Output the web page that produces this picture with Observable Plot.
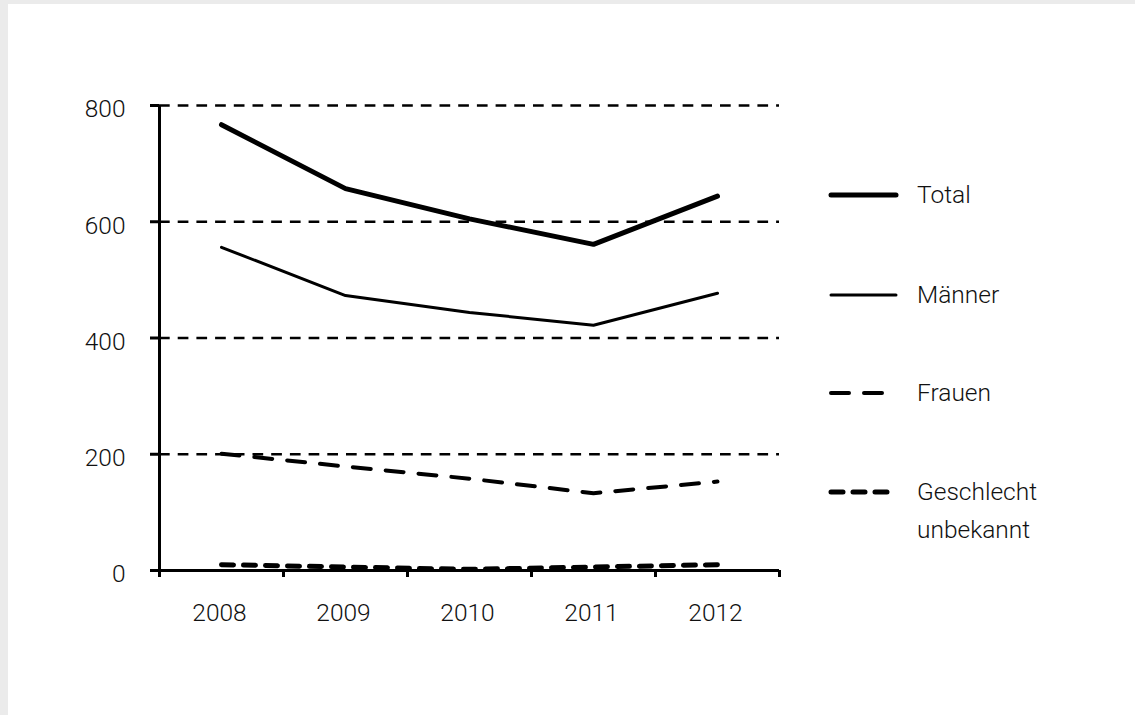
<!DOCTYPE html>
<html>
<head>
<meta charset="utf-8">
<script src="https://cdn.jsdelivr.net/npm/d3@7"></script>
<script src="https://cdn.jsdelivr.net/npm/@observablehq/plot@0.6"></script>
<style>
  html, body { margin: 0; padding: 0; background: #ebebeb; }
  #panel { position: absolute; left: 8px; top: 4px; width: 1127px; height: 711px; background: #fff; overflow: hidden; }
  #chart { position: absolute; left: -8px; top: -4px; }
  #legend { position: absolute; left: 0; top: 0; }
  .lg { position: absolute; font-family: Roboto, "Liberation Sans", sans-serif; font-weight: 300; font-size: 24.5px; color: #111; line-height: 38px; white-space: nowrap; }
  svg text { font-family: Roboto, "Liberation Sans", sans-serif; font-weight: 300; }
</style>
</head>
<body>
<div id="panel"><div id="chart"></div><div id="legend"></div></div>
<script>
const years = [2008, 2009, 2010, 2011, 2012];
const total = [767, 657, 605, 561, 644];
const maenner = [556, 473, 444, 422, 477];
const frauen = [201, 179, 158, 133, 153];
const unbekannt = [10, 6, 2, 6, 10];
const yTicks = [0, 200, 400, 600, 800];
const seriesNames = ["Total", "Männer", "Frauen", "Geschlecht unbekannt"];

const styles = {
  "Total": {strokeWidth: 5, dash: null},
  "Männer": {strokeWidth: 3, dash: null},
  "Frauen": {strokeWidth: 4, dash: "18,15"},
  "Geschlecht unbekannt": {strokeWidth: 5, dash: "12,10"}
};
const values = [total, maenner, frauen, unbekannt];
const data = seriesNames.flatMap((s, i) => years.map((yr, j) => ({series: s, year: yr, value: values[i][j]})));
const bounds = [...years.map(y => y - 0.5), years[years.length - 1] + 0.5];

const marks = [
  Plot.ruleY(yTicks.filter(d => d > 0), {x1: bounds[0], x2: bounds[bounds.length - 1], stroke: "#000", strokeWidth: 2.5, strokeDasharray: "10.7,8"}),
  Plot.axisY({ticks: yTicks, tickSize: 9, tickFormat: () => "", stroke: "#000", strokeWidth: 3, label: null}),
  Plot.axisY({ticks: yTicks, tickSize: 0, tickPadding: 34, fontSize: 24.5, fill: "#111", tickFormat: d => String(d), dy: 4, label: null}),
  Plot.axisX({ticks: bounds, tickSize: 7, tickFormat: () => "", strokeWidth: 3, stroke: "#000", label: null}),
  Plot.axisX({ticks: years, tickSize: 0, tickPadding: 33, fontSize: 24.5, fill: "#111", tickFormat: d => String(d), dx: -2, label: null}),
  Plot.ruleX([bounds[0]], {y1: 0, y2: 800, stroke: "#000", strokeWidth: 3}),
  Plot.ruleY([0], {x1: bounds[0], x2: bounds[bounds.length - 1], stroke: "#000", strokeWidth: 3})
];
for (const s of seriesNames) {
  const st = styles[s];
  marks.push(Plot.line(data.filter(d => d.series === s), {
    x: "year", y: "value", stroke: "#000", strokeWidth: st.strokeWidth,
    strokeDasharray: st.dash, strokeLinecap: "round", strokeLinejoin: "miter"
  }));
}

const chart = Plot.plot({
  width: 1135, height: 715,
  marginLeft: 159, marginRight: 356, marginTop: 105, marginBottom: 145,
  x: {type: "linear", domain: [bounds[0], bounds[bounds.length - 1]], label: null},
  y: {domain: [0, 800], label: null},
  style: {background: "transparent", overflow: "visible"},
  marks
});
document.getElementById("chart").appendChild(chart);

// Legend
const legend = document.getElementById("legend");
const legendRows = [
  {name: "Total", label: "Total", y: 195},
  {name: "Männer", label: "Männer", y: 295},
  {name: "Frauen", label: "Frauen", y: 393},
  {name: "Geschlecht unbekannt", label: "Geschlecht<br>unbekannt", y: 492}
];
for (const r of legendRows) {
  const st = styles[r.name];
  const svgNS = "http://www.w3.org/2000/svg";
  const svg = document.createElementNS(svgNS, "svg");
  svg.setAttribute("width", 80); svg.setAttribute("height", 20);
  svg.style.position = "absolute";
  svg.style.left = (822 - 8) + "px";
  svg.style.top = (r.y - 10 - 4) + "px";
  const line = document.createElementNS(svgNS, "line");
  line.setAttribute("x1", 9); line.setAttribute("x2", 74);
  line.setAttribute("y1", 10); line.setAttribute("y2", 10);
  line.setAttribute("stroke", "#000");
  line.setAttribute("stroke-width", st.strokeWidth);
  line.setAttribute("stroke-linecap", "round");
  if (st.dash) line.setAttribute("stroke-dasharray", st.dash);
  svg.appendChild(line);
  legend.appendChild(svg);
  const t = document.createElement("div");
  t.className = "lg";
  t.innerHTML = r.label;
  t.style.left = (917 - 8) + "px";
  t.style.top = (r.y - 19 - 4) + "px";
  legend.appendChild(t);
}
</script>
</body>
</html>
